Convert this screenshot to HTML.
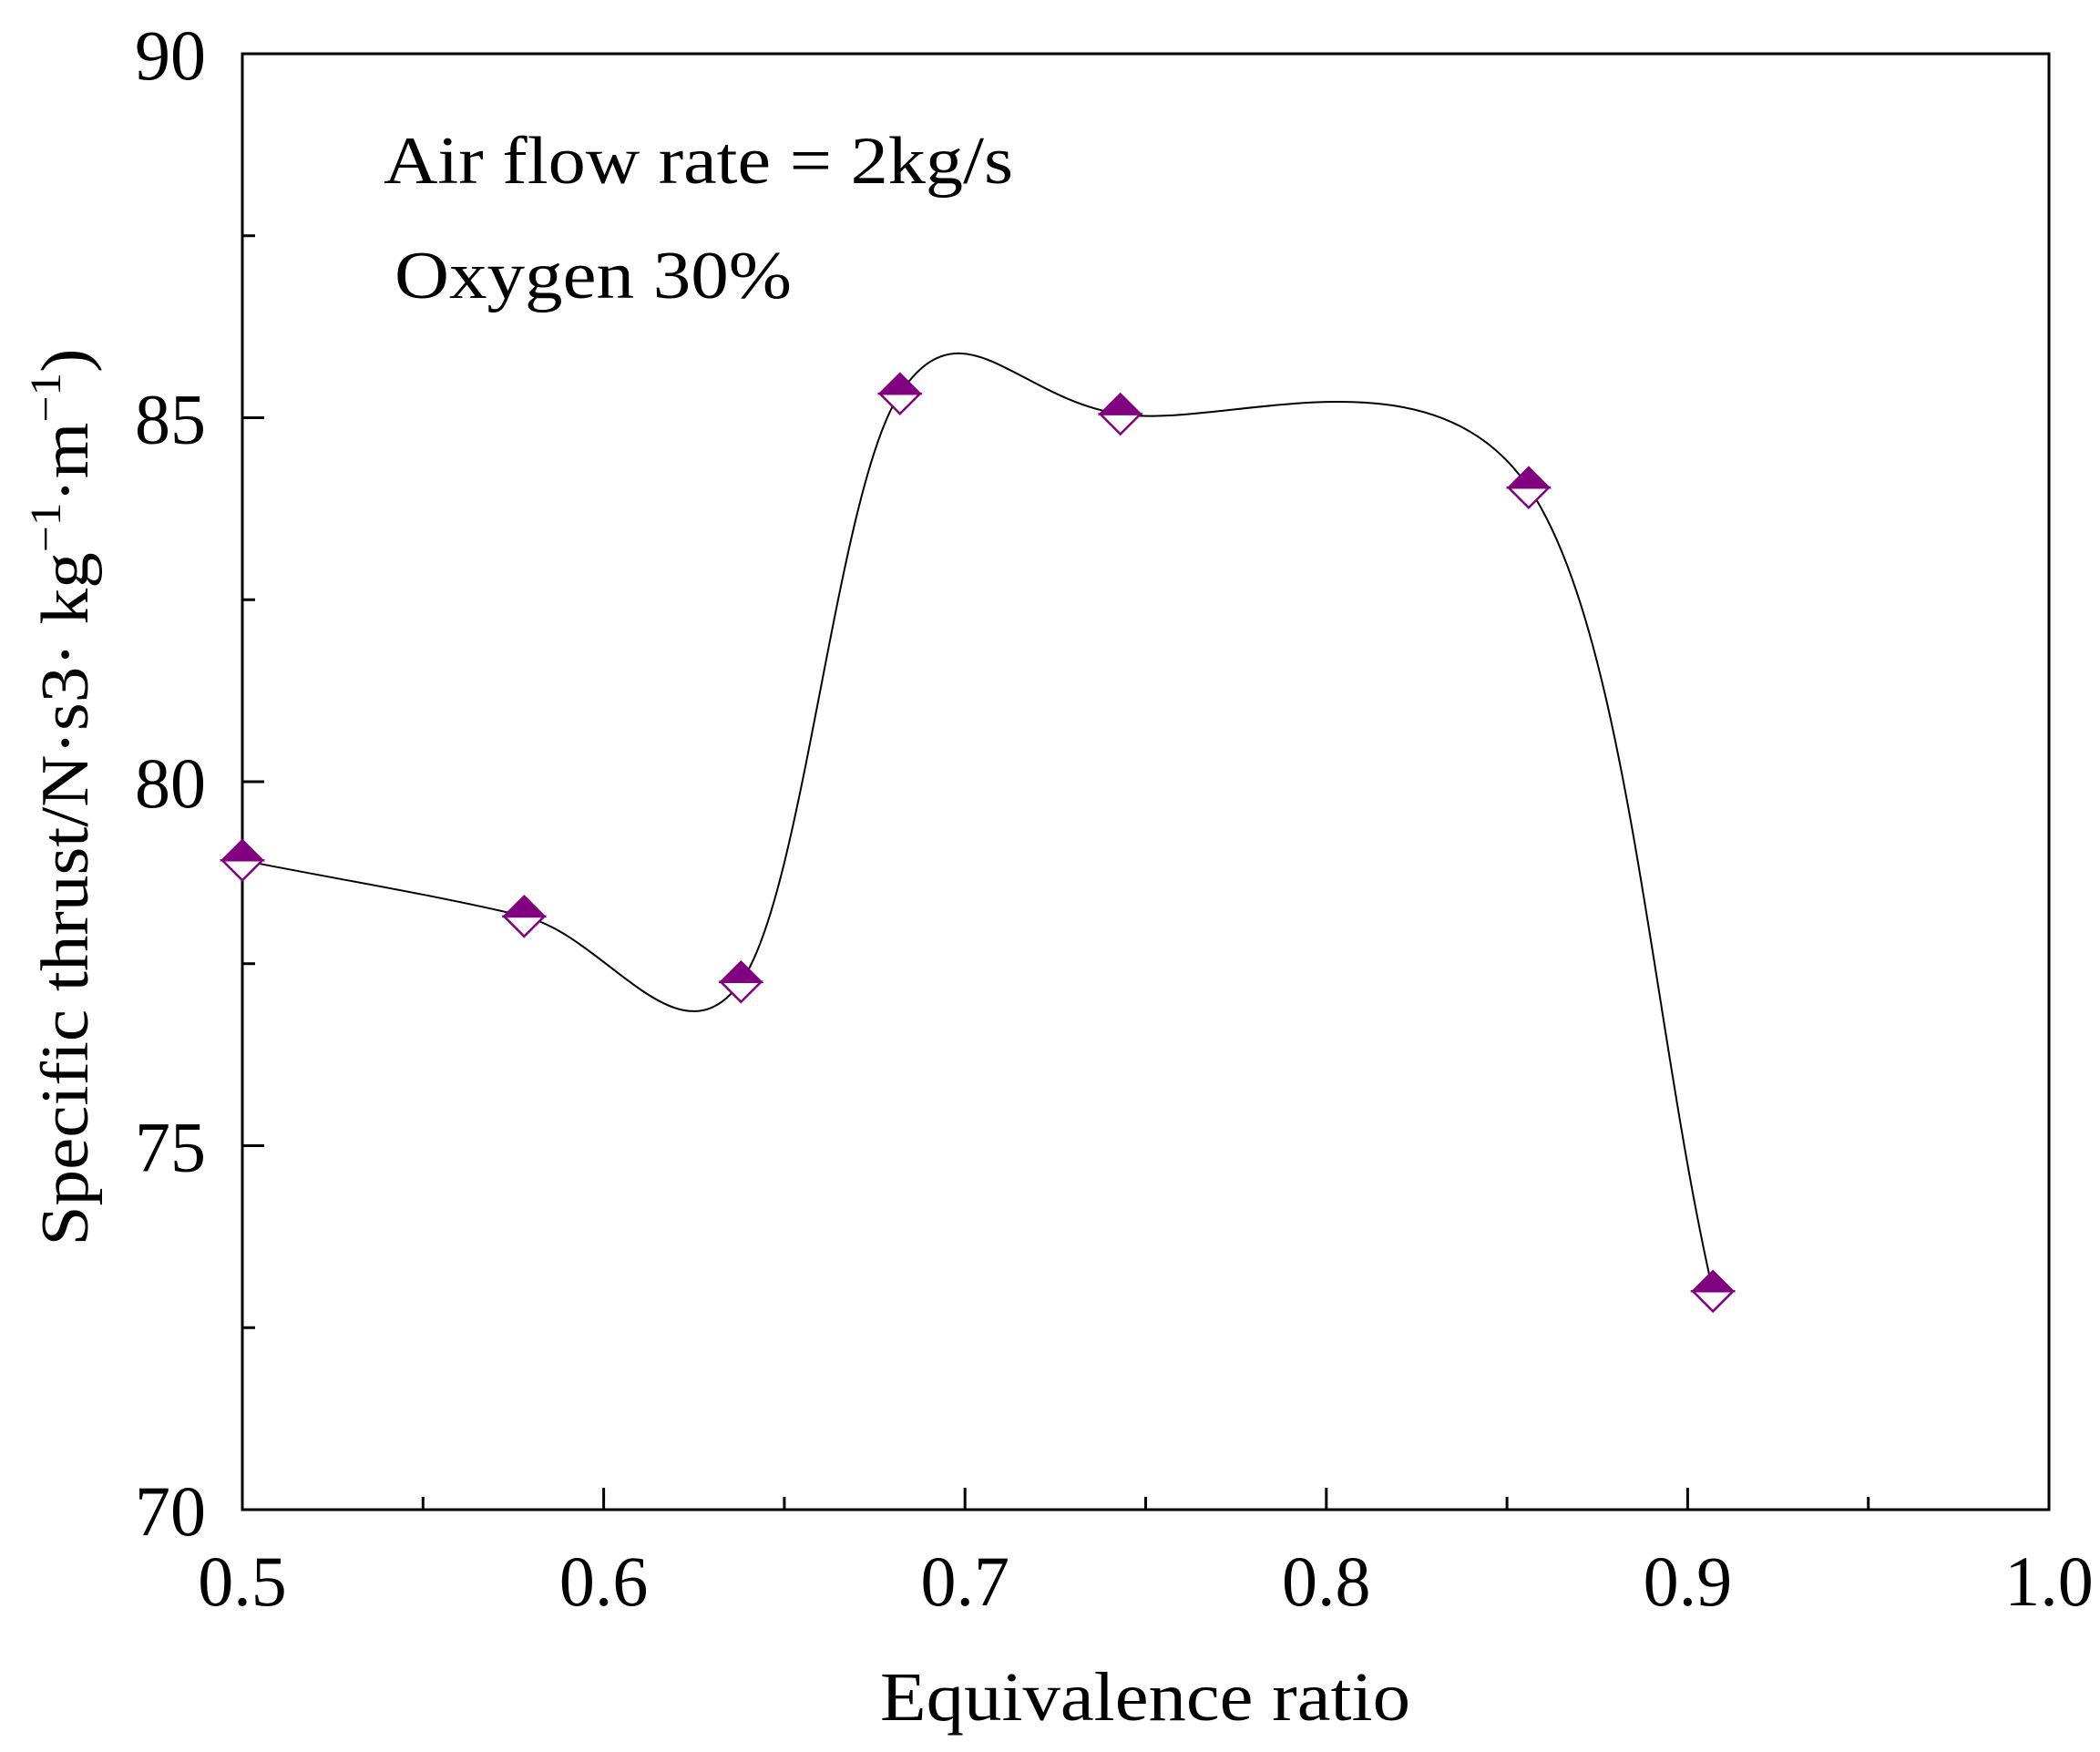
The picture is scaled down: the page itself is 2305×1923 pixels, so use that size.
<!DOCTYPE html>
<html><head><meta charset="utf-8"><style>html,body{margin:0;padding:0;background:#fff}svg{display:block}text{font-family:"Liberation Serif",serif;fill:#000}</style></head>
<body>
<svg id="chart" width="2305" height="1923" viewBox="0 0 2305 1923" xmlns="http://www.w3.org/2000/svg">
<g id="axes"></g>
<path id="curve" fill="none" stroke="#000" stroke-width="2"/>
<g id="marks"></g>
<text x="421" y="201" font-size="74" textLength="691" lengthAdjust="spacingAndGlyphs">Air flow rate = 2kg/s</text>
<text x="433" y="327" font-size="74" textLength="436" lengthAdjust="spacingAndGlyphs">Oxygen 30%</text>
<text x="1257" y="1888" font-size="76" text-anchor="middle" textLength="582" lengthAdjust="spacingAndGlyphs">Equivalence ratio</text>
<text transform="translate(96,875) rotate(-90)" font-size="74" text-anchor="middle" textLength="985" lengthAdjust="spacingAndGlyphs">Specific thrust/N·s3· kg<tspan dy="-30" font-size="48">−1</tspan><tspan dy="30">·m</tspan><tspan dy="-30" font-size="48">−1</tspan><tspan dy="30">)</tspan></text>
</svg>
<script>
const xs=[0.5,0.578,0.638,0.682,0.743,0.856,0.907];
const ys=[78.92,78.15,77.25,85.33,85.05,84.04,73.0];
const xTicks=[0.5,0.6,0.7,0.8,0.9,1.0];
const xTickLabels=["0.5","0.6","0.7","0.8","0.9","1.0"];
const yTicks=[70,75,80,85,90];
const yTickLabels=["70","75","80","85","90"];
const L=266,R=2249,T=59,B=1657;
const X=v=>L+(v-0.5)/0.5*(R-L);
const Y=v=>B-(v-70)/20*(B-T);
const NS="http://www.w3.org/2000/svg";
function mk(tag,attrs,parent){const e=document.createElementNS(NS,tag);for(const k in attrs)e.setAttribute(k,attrs[k]);parent.appendChild(e);return e;}
const ax=document.getElementById('axes');
const frame=mk('rect',{x:L,y:T,width:R-L,height:B-T,fill:'none',stroke:'#000','stroke-width':3},ax);


for(let i=0;i<xTicks.length;i++){
  const x=X(xTicks[i]);
  const t=mk('line',{x1:x,x2:x,y1:B,y2:B-24,stroke:'#000','stroke-width':3},ax);
  
  
  const lb=mk('text',{x:x,y:B+105,'font-size':78,'text-anchor':'middle'},ax);
  lb.textContent=xTickLabels[i];
  
  
  if(i<xTicks.length-1){
    const xm=X(xTicks[i]+0.05);
    const m=mk('line',{x1:xm,x2:xm,y1:B,y2:B-14,stroke:'#000','stroke-width':3},ax);
    
    
  }
}
for(let i=0;i<yTicks.length;i++){
  const y=Y(yTicks[i]);
  const t=mk('line',{x1:L,x2:L+24,y1:y,y2:y,stroke:'#000','stroke-width':3},ax);
  
  
  const lb=mk('text',{x:L-40,y:y+28,'font-size':78,'text-anchor':'end'},ax);
  lb.textContent=yTickLabels[i];
  
  
  if(i<yTicks.length-1){
    const ym=Y(yTicks[i]+2.5);
    const m=mk('line',{x1:L,x2:L+14,y1:ym,y2:ym,stroke:'#000','stroke-width':3},ax);
    
    
  }
}
// Catmull-Rom through pixel points
const P=xs.map((v,i)=>[X(v),Y(ys[i])]);
const n=P.length;
let dStr='M'+P[0][0].toFixed(1)+','+P[0][1].toFixed(1);
function tan(i){const a=P[Math.max(0,i-1)],b=P[Math.min(n-1,i+1)];const k=(i===0||i===n-1)?1:0.5;return [(b[0]-a[0])*k,(b[1]-a[1])*k];}
for(let i=0;i<n-1;i++){
  const t0=tan(i),t1=tan(i+1);
  const c1=[P[i][0]+t0[0]/3,P[i][1]+t0[1]/3],c2=[P[i+1][0]-t1[0]/3,P[i+1][1]-t1[1]/3];
  dStr+=`C${c1[0].toFixed(1)},${c1[1].toFixed(1)} ${c2[0].toFixed(1)},${c2[1].toFixed(1)} ${P[i+1][0].toFixed(1)},${P[i+1][1].toFixed(1)}`;
}
document.getElementById('curve').setAttribute('d',dStr);
const mg=document.getElementById('marks');
for(let i=0;i<n;i++){
  const cx=X(xs[i]),cy=Y(ys[i]),s=22;
  const g=mk('g',{},mg);
  
  
  mk('polygon',{points:`${cx-s},${cy} ${cx},${cy+s} ${cx+s},${cy}`,fill:'#fff',stroke:'#800080','stroke-width':2.5},g);
  mk('polygon',{points:`${cx-s},${cy} ${cx},${cy-s} ${cx+s},${cy}`,fill:'#800080',stroke:'#800080','stroke-width':2.5},g);
}
</script>
</body></html>
